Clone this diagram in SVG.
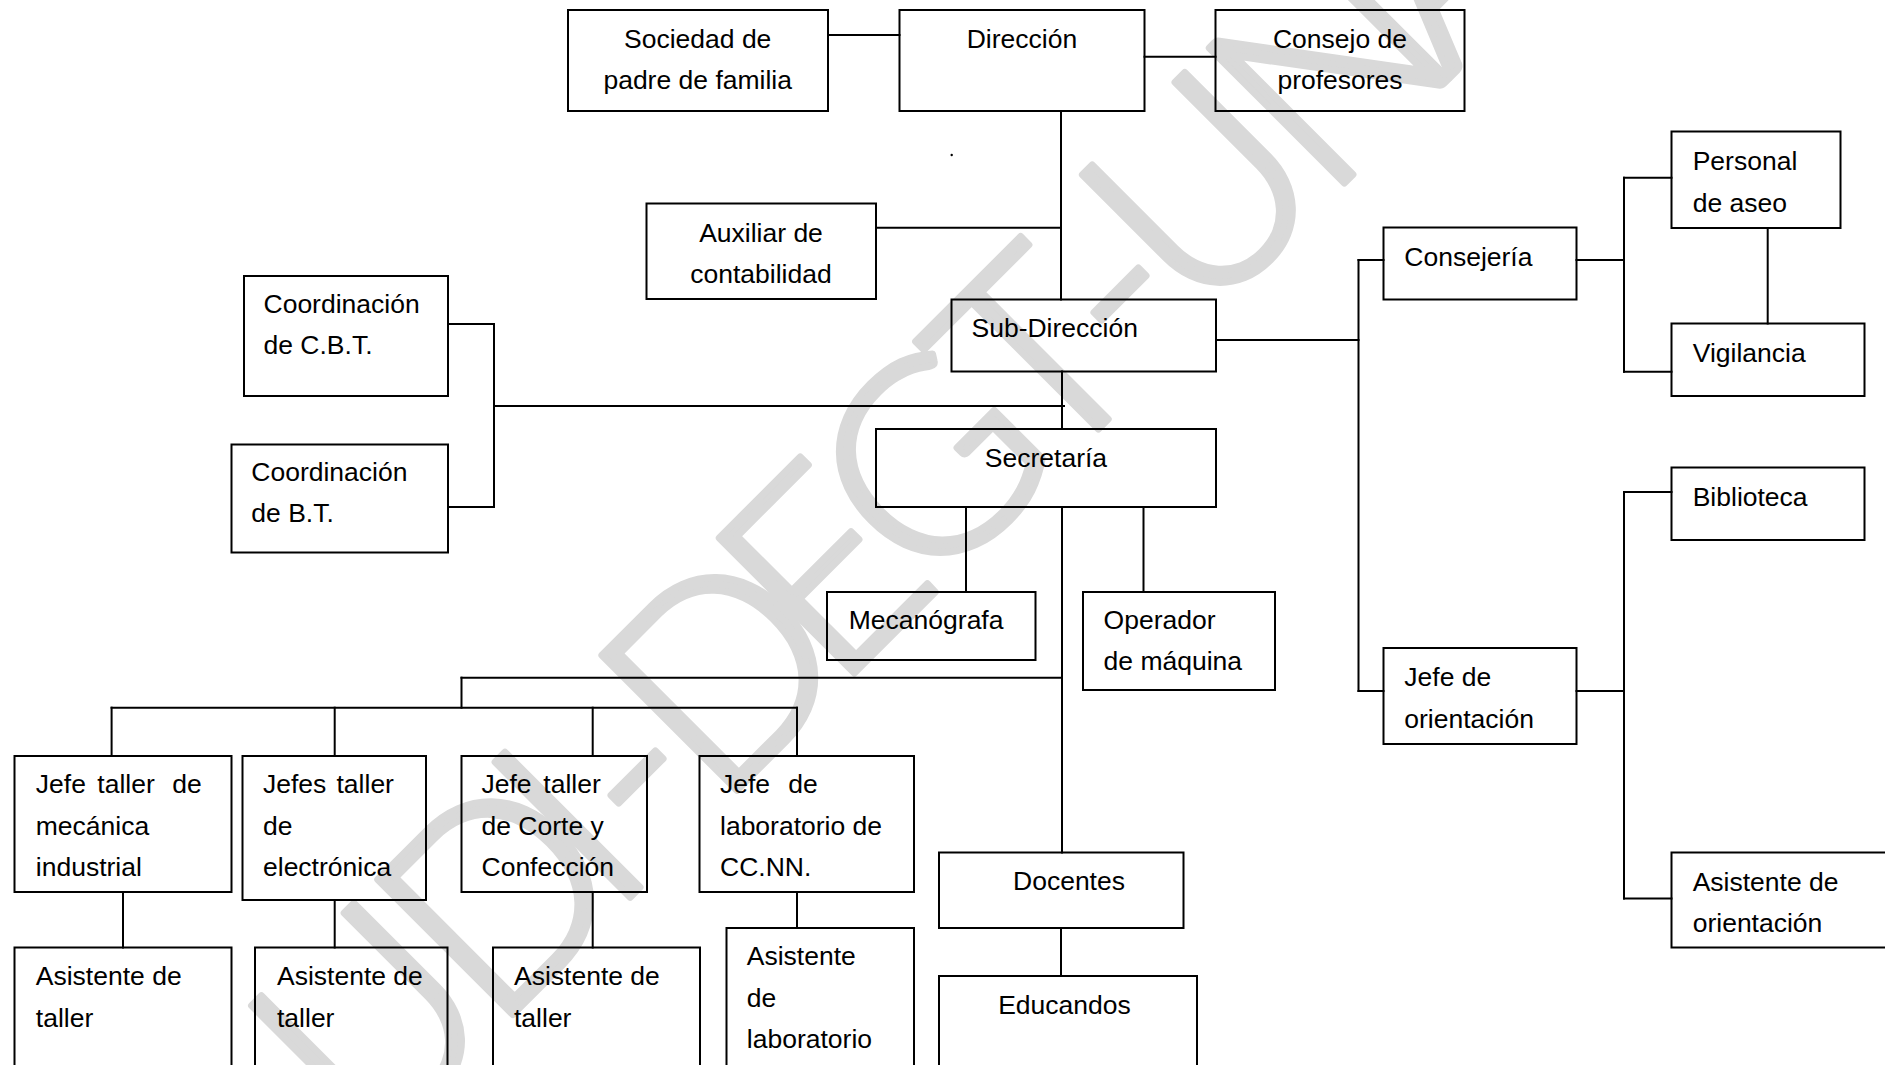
<svg xmlns="http://www.w3.org/2000/svg" width="1885" height="1065" viewBox="0 0 1885 1065">
<style>
.box{fill:none;stroke:#000;stroke-width:2}
.t{font-family:"Liberation Sans",Arial,sans-serif;font-size:26.5px;fill:#000}
.c{text-anchor:middle}
#connectors line{stroke:#000;stroke-width:2;stroke-linecap:square}
.wm{font-family:Lato,"Open Sans",sans-serif;font-weight:300;font-size:270px;fill:#d9d9d9;stroke:#d9d9d9;stroke-width:7;stroke-linejoin:round;stroke-linecap:round}
</style>
<rect x="0" y="0" width="1885" height="1065" fill="#fff"/>
<g id="watermark">
<text class="wm" transform="rotate(-45)" y="1080" x="-559 -383 -217 -149 -66 100 232 402 534 616 793 967">UDI-DEGT-UNA</text>
</g>
<g id="connectors">
<line x1="828" y1="35" x2="899.5" y2="35"/>
<line x1="1144.5" y1="56.7" x2="1215.5" y2="56.7"/>
<line x1="1061" y1="111" x2="1061" y2="299.5"/>
<line x1="876" y1="227.7" x2="1061" y2="227.7"/>
<line x1="1062" y1="371.5" x2="1062" y2="429"/>
<line x1="494" y1="406" x2="1064" y2="406"/>
<line x1="494" y1="324" x2="494" y2="507"/>
<line x1="448" y1="324" x2="494" y2="324"/>
<line x1="448" y1="507" x2="494" y2="507"/>
<line x1="966" y1="507" x2="966" y2="592"/>
<line x1="1143.5" y1="507" x2="1143.5" y2="592"/>
<line x1="1062" y1="507" x2="1062" y2="852.5"/>
<line x1="461.5" y1="677.7" x2="1062" y2="677.7"/>
<line x1="461.5" y1="677.7" x2="461.5" y2="707.7"/>
<line x1="111.6" y1="707.7" x2="797" y2="707.7"/>
<line x1="111.6" y1="707.7" x2="111.6" y2="756"/>
<line x1="334.7" y1="707.7" x2="334.7" y2="756"/>
<line x1="592.7" y1="707.7" x2="592.7" y2="756"/>
<line x1="797" y1="707.7" x2="797" y2="756"/>
<line x1="123" y1="892" x2="123" y2="947.5"/>
<line x1="334.7" y1="900" x2="334.7" y2="947.5"/>
<line x1="592.7" y1="892" x2="592.7" y2="947.5"/>
<line x1="797" y1="892" x2="797" y2="928"/>
<line x1="1061" y1="928" x2="1061" y2="976"/>
<line x1="1216" y1="340" x2="1358.5" y2="340"/>
<line x1="1358.5" y1="260" x2="1358.5" y2="691"/>
<line x1="1358.5" y1="260" x2="1383.5" y2="260"/>
<line x1="1358.5" y1="691" x2="1383.5" y2="691"/>
<line x1="1576.5" y1="260" x2="1624" y2="260"/>
<line x1="1624" y1="177.7" x2="1624" y2="371.7"/>
<line x1="1624" y1="177.7" x2="1671.5" y2="177.7"/>
<line x1="1624" y1="371.7" x2="1671.5" y2="371.7"/>
<line x1="1767.7" y1="228" x2="1767.7" y2="323.5"/>
<line x1="1576.5" y1="691" x2="1624" y2="691"/>
<line x1="1624" y1="492" x2="1624" y2="898.6"/>
<line x1="1624" y1="492" x2="1671.5" y2="492"/>
<line x1="1624" y1="898.6" x2="1671.5" y2="898.6"/>
</g>
<circle cx="951.7" cy="155" r="1.2" fill="#000"/>
<g id="sociedad"><rect class="box" x="568" y="10" width="260" height="101"/><text class="t c" x="697.7" y="48.3">Sociedad de</text><text class="t c" x="697.7" y="89.3">padre de familia</text></g>
<g id="direccion"><rect class="box" x="899.5" y="10" width="245" height="101"/><text class="t c" x="1021.9" y="48.3">Dirección</text></g>
<g id="consejo"><rect class="box" x="1215.5" y="10" width="249" height="101"/><text class="t c" x="1340" y="48.3">Consejo de</text><text class="t c" x="1340" y="89.3">profesores</text></g>
<g id="auxiliar"><rect class="box" x="646.5" y="203.5" width="229.5" height="95.5"/><text class="t c" x="761" y="241.7">Auxiliar de</text><text class="t c" x="761" y="283">contabilidad</text></g>
<g id="subdireccion"><rect class="box" x="951.5" y="299.5" width="264.5" height="72"/><text class="t" x="971.5" y="337.3">Sub-Dirección</text></g>
<g id="secretaria"><rect class="box" x="876" y="429" width="340" height="78"/><text class="t c" x="1046" y="467.3">Secretaría</text></g>
<g id="coord-cbt"><rect class="box" x="244" y="276" width="204" height="120"/><text class="t" x="263.5" y="313.3">Coordinación</text><text class="t" x="263.5" y="354.3">de C.B.T.</text></g>
<g id="coord-bt"><rect class="box" x="231.5" y="444.5" width="216.5" height="108"/><text class="t" x="251.3" y="480.7">Coordinación</text><text class="t" x="251.3" y="522.3">de B.T.</text></g>
<g id="mecanografa"><rect class="box" x="827" y="592" width="208.5" height="68"/><text class="t" x="848.8" y="629.3">Mecanógrafa</text></g>
<g id="operador"><rect class="box" x="1083" y="592" width="192" height="98"/><text class="t" x="1103.6" y="629.3">Operador</text><text class="t" x="1103.6" y="670">de máquina</text></g>
<g id="consejeria"><rect class="box" x="1383.5" y="227.5" width="193" height="72"/><text class="t" x="1404.3" y="265.7">Consejería</text></g>
<g id="personal-aseo"><rect class="box" x="1671.5" y="131.5" width="169" height="96.5"/><text class="t" x="1692.7" y="170">Personal</text><text class="t" x="1692.7" y="211.7">de aseo</text></g>
<g id="vigilancia"><rect class="box" x="1671.5" y="323.5" width="193" height="72.5"/><text class="t" x="1692.7" y="361.7">Vigilancia</text></g>
<g id="biblioteca"><rect class="box" x="1671.5" y="467.5" width="193" height="72.5"/><text class="t" x="1692.7" y="505.7">Biblioteca</text></g>
<g id="jefe-orientacion"><rect class="box" x="1383.5" y="648" width="193" height="96"/><text class="t" x="1404.3" y="686">Jefe de</text><text class="t" x="1404.3" y="727.5">orientación</text></g>
<g id="asistente-orientacion"><rect class="box" x="1671.5" y="852.5" width="230" height="95"/><text class="t" x="1692.7" y="890.5">Asistente de</text><text class="t" x="1692.7" y="932">orientación</text></g>
<g id="jefe-mecanica"><rect class="box" x="14.5" y="756" width="217" height="136"/><text class="t" y="793.3"><tspan x="35.8">Jefe</tspan><tspan x="97.3">taller</tspan><tspan x="172.2">de</tspan></text><text class="t" x="35.8" y="835">mecánica</text><text class="t" x="35.8" y="875.7">industrial</text></g>
<g id="jefes-electronica"><rect class="box" x="242.5" y="756" width="183.5" height="144"/><text class="t" y="793.3"><tspan x="263">Jefes</tspan><tspan x="336.5">taller</tspan></text><text class="t" x="263" y="835">de</text><text class="t" x="263" y="875.7">electrónica</text></g>
<g id="jefe-corte"><rect class="box" x="461.5" y="756" width="185.5" height="136"/><text class="t" y="793.3"><tspan x="481.5">Jefe</tspan><tspan x="543.3">taller</tspan></text><text class="t" x="481.5" y="835">de Corte y</text><text class="t" x="481.5" y="875.7">Confección</text></g>
<g id="jefe-laboratorio"><rect class="box" x="699.5" y="756" width="214.5" height="136"/><text class="t" y="793.3"><tspan x="720">Jefe</tspan><tspan x="788.2">de</tspan></text><text class="t" x="720" y="835">laboratorio de</text><text class="t" x="720" y="875.7">CC.NN.</text></g>
<g id="docentes"><rect class="box" x="939" y="852.5" width="244.5" height="75.5"/><text class="t c" x="1069" y="890">Docentes</text></g>
<g id="educandos"><rect class="box" x="939" y="976" width="258" height="100"/><text class="t c" x="1064.5" y="1014">Educandos</text></g>
<g id="asistente-taller-1"><rect class="box" x="14.5" y="947.5" width="217" height="130"/><text class="t" x="35.8" y="985">Asistente de</text><text class="t" x="35.8" y="1026.7">taller</text></g>
<g id="asistente-taller-2"><rect class="box" x="255" y="947.5" width="192.5" height="130"/><text class="t" x="277" y="985">Asistente de</text><text class="t" x="277" y="1026.7">taller</text></g>
<g id="asistente-taller-3"><rect class="box" x="493" y="947.5" width="207" height="130"/><text class="t" x="514" y="985">Asistente de</text><text class="t" x="514" y="1026.7">taller</text></g>
<g id="asistente-laboratorio"><rect class="box" x="726.5" y="928" width="187.5" height="150"/><text class="t" x="746.8" y="965">Asistente</text><text class="t" x="746.8" y="1007.3">de</text><text class="t" x="746.8" y="1048.3">laboratorio</text></g>
</svg>
